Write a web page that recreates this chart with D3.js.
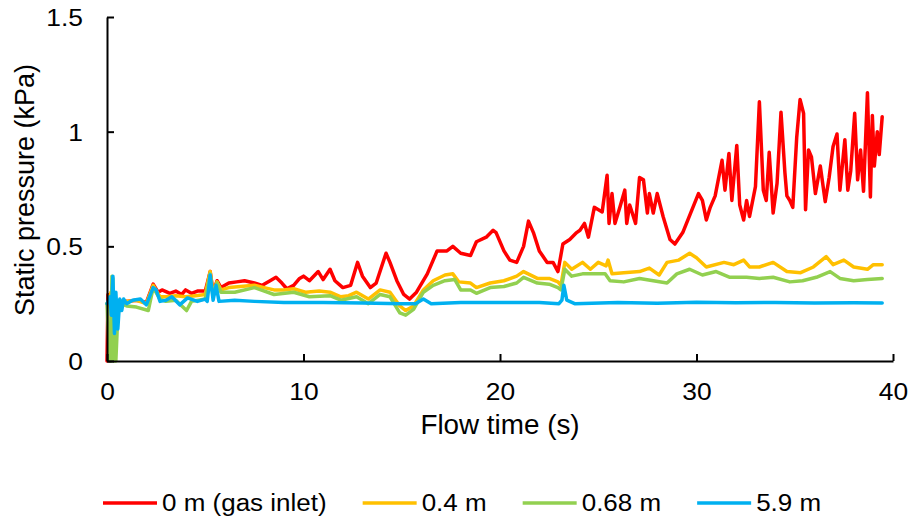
<!DOCTYPE html>
<html>
<head>
<meta charset="utf-8">
<script src="https://cdn.jsdelivr.net/npm/d3@7"></script>
<style>
  html, body { margin: 0; padding: 0; background: #fff; }
  svg { display: block; }
  text { font-family: "Liberation Sans", Arial, sans-serif; fill: #000; }
</style>
</head>
<body>
<svg id="chart" width="911" height="523"></svg>
<script>
// ---------- DATA ----------
const seriesNames = ["0 m (gas inlet)", "0.4 m", "0.68 m", "5.9 m"];
const seriesColors = ["#FF0000", "#FFC000", "#92D050", "#00B0F0"];

const xTicks = [0, 10, 20, 30, 40];
const yTicks = [0, 0.5, 1, 1.5];
const yTickLabels = ["0", "0.5", "1", "1.5"];

const tRed = [0,0.05,0.3,0.6,1.0,1.5,2.0,2.35,2.6,2.8,3.2,3.5,3.8,4.0,4.3,4.6,5.0,5.25,5.4,5.6,5.8,6.2,6.6,7.0,7.5,7.9,8.3,8.6,8.9,9.15,9.5,9.8,10.0,10.3,10.75,11.0,11.35,11.6,12.0,12.4,12.75,13.0,13.4,13.7,14.2,14.4,14.75,15.1,15.4,15.75,16.3,16.8,17.3,17.6,18.0,18.5,18.8,19.3,19.65,19.8,20.2,20.5,20.85,21.2,21.45,21.7,22.0,22.4,22.7,22.95,23.2,23.55,23.9,24.07,24.3,24.5,24.8,25.2,25.45,25.55,25.7,25.85,26.1,26.35,26.45,26.6,26.9,27.1,27.3,27.5,27.6,27.8,28.0,28.3,28.65,28.9,29.3,29.7,30.1,30.3,30.5,30.7,30.95,31.3,31.45,31.65,31.8,32.05,32.2,32.4,32.55,32.7,33.0,33.2,33.4,33.55,33.7,33.9,34.1,34.3,34.5,34.6,34.75,34.9,35.1,35.27,35.45,35.55,35.7,35.85,36.05,36.3,36.55,36.75,36.95,37.15,37.3,37.55,37.7,37.85,38.05,38.2,38.35,38.5,38.7,38.85,38.95,39.05,39.2,39.3,39.45];
const pRed = [0,0.29,0.27,0.26,0.26,0.265,0.255,0.335,0.30,0.31,0.295,0.305,0.29,0.31,0.295,0.305,0.305,0.39,0.30,0.35,0.32,0.34,0.345,0.35,0.34,0.33,0.35,0.365,0.34,0.315,0.33,0.36,0.37,0.35,0.39,0.355,0.40,0.35,0.32,0.33,0.43,0.37,0.32,0.34,0.47,0.43,0.35,0.29,0.27,0.30,0.38,0.48,0.48,0.50,0.47,0.46,0.52,0.54,0.57,0.56,0.48,0.44,0.43,0.50,0.61,0.56,0.48,0.43,0.43,0.39,0.51,0.53,0.56,0.57,0.60,0.54,0.67,0.65,0.81,0.60,0.73,0.60,0.67,0.745,0.60,0.68,0.60,0.80,0.79,0.645,0.73,0.645,0.73,0.63,0.53,0.51,0.56,0.645,0.73,0.70,0.615,0.67,0.72,0.875,0.745,0.905,0.70,0.94,0.68,0.615,0.70,0.63,0.76,1.13,0.745,0.70,0.91,0.645,0.775,1.085,0.82,0.72,0.70,0.67,0.975,1.14,1.08,0.66,0.92,0.89,0.73,0.85,0.695,0.80,0.935,0.99,0.745,0.965,0.745,0.83,1.08,0.79,0.92,0.74,1.17,0.715,1.07,0.85,1.0,0.90,1.065];

const tYellow = [0,0.1,0.2,0.35,0.6,1.0,1.5,2.0,2.35,2.7,3.0,3.5,4.0,4.5,5.0,5.25,5.4,5.6,5.8,6.2,6.8,7.5,8.0,8.5,9.0,9.5,10.1,10.8,11.35,11.9,12.3,12.7,13.3,13.9,14.4,14.9,15.2,15.6,16.1,16.6,17.2,17.6,17.9,18.5,18.8,19.5,20.2,20.85,21.2,21.9,22.5,22.95,23.1,23.3,23.65,24.2,24.6,25.0,25.4,25.5,25.7,26.3,27.1,27.6,28.1,28.5,29.1,29.65,30.0,30.5,31.4,31.9,32.4,32.7,33.2,33.9,34.6,35.3,35.95,36.6,36.95,37.5,38.0,38.7,39.0,39.45];
const pYellow = [0.25,0.26,0.30,0.27,0.26,0.26,0.265,0.25,0.33,0.28,0.28,0.285,0.28,0.285,0.29,0.39,0.29,0.345,0.31,0.32,0.325,0.33,0.32,0.31,0.31,0.315,0.30,0.305,0.30,0.28,0.285,0.30,0.27,0.31,0.30,0.24,0.22,0.24,0.31,0.35,0.375,0.38,0.345,0.34,0.32,0.34,0.35,0.37,0.39,0.36,0.36,0.345,0.33,0.43,0.40,0.43,0.40,0.43,0.415,0.44,0.38,0.385,0.39,0.405,0.375,0.43,0.44,0.47,0.45,0.41,0.43,0.42,0.44,0.41,0.41,0.43,0.39,0.385,0.41,0.455,0.42,0.44,0.41,0.40,0.42,0.42];

const tGreen = [0,0.08,0.12,0.2,0.25,0.3,0.35,0.45,0.55,0.7,1.0,1.5,2.1,2.35,2.7,3.0,3.5,4.05,4.3,5.0,5.25,5.4,5.6,5.8,6.5,7.5,8.5,9.5,10.3,11.35,11.9,12.7,13.3,13.9,14.4,14.9,15.2,15.6,16.1,16.6,17.2,17.7,18.0,18.5,18.8,19.5,20.2,20.85,21.2,21.9,22.5,22.95,23.1,23.3,23.65,24.2,24.7,25.35,25.6,26.3,27.1,27.8,28.5,29.0,29.65,30.3,31.0,31.7,32.55,33.2,33.9,34.75,35.4,36.1,36.8,37.3,38.0,38.7,39.45];
const pGreen = [0.25,0.10,0.0,0.0,0.37,0.36,0.0,0.0,0.20,0.25,0.24,0.235,0.22,0.32,0.27,0.26,0.265,0.22,0.26,0.27,0.38,0.28,0.34,0.30,0.30,0.32,0.29,0.30,0.28,0.285,0.265,0.28,0.25,0.29,0.28,0.21,0.20,0.225,0.30,0.33,0.35,0.355,0.31,0.31,0.295,0.32,0.325,0.34,0.365,0.34,0.335,0.32,0.31,0.40,0.37,0.38,0.38,0.38,0.35,0.345,0.36,0.35,0.34,0.38,0.40,0.375,0.39,0.365,0.365,0.36,0.365,0.345,0.35,0.365,0.39,0.36,0.35,0.355,0.36];

const tBlue = [0,0.15,0.22,0.3,0.38,0.45,0.55,0.65,0.75,0.85,1.0,1.3,1.7,2.0,2.35,2.5,2.7,3.0,3.3,3.7,4.1,4.6,5.0,5.1,5.25,5.4,5.55,5.7,6.5,7.5,9.0,11.0,13.0,15.0,15.7,16.1,16.5,18.0,20.0,22.0,23.0,23.15,23.25,23.4,23.8,26.0,28.0,30.0,32.0,34.0,36.0,38.0,39.45];
const pBlue = [0.25,0.28,0.20,0.37,0.12,0.30,0.14,0.27,0.22,0.27,0.25,0.265,0.27,0.245,0.32,0.31,0.26,0.265,0.28,0.245,0.275,0.26,0.27,0.26,0.375,0.265,0.33,0.26,0.265,0.26,0.255,0.255,0.253,0.25,0.25,0.27,0.25,0.255,0.255,0.255,0.25,0.265,0.33,0.265,0.25,0.255,0.252,0.256,0.254,0.255,0.253,0.254,0.253];

const seriesTimes = [tRed, tYellow, tGreen, tBlue];
const seriesValues = [pRed, pYellow, pGreen, pBlue];

const xTitle = "Flow time (s)";
const yTitle = "Static pressure (kPa)";

// ---------- LAYOUT ----------
const svg = d3.select("#chart");
const x = d3.scaleLinear().domain([0, 40]).range([107, 893]);
const y = d3.scaleLinear().domain([0, 1.5]).range([361, 17]);

function stretch(sel, k) {
  sel.each(function () {
    const w = this.getComputedTextLength();
    d3.select(this).attr("textLength", w * k).attr("lengthAdjust", "spacingAndGlyphs");
  });
}

// ---------- LINES ----------
const line = d3.line().x(d => x(d[0])).y(d => y(d[1]));
const plot = svg.append("g");
seriesNames.forEach((name, i) => {
  const pts = seriesTimes[i].map((t, j) => [t, seriesValues[i][j]]);
  plot.append("path")
    .datum(pts)
    .attr("fill", "none")
    .attr("stroke", seriesColors[i])
    .attr("stroke-width", 3.5)
    .attr("stroke-linejoin", "round")
    .attr("stroke-linecap", "round")
    .attr("d", line);
});

// ---------- AXES ----------
const xAxis = svg.append("g").attr("transform", `translate(0,${y(0)})`)
  .call(d3.axisBottom(x).tickValues(xTicks).tickSizeInner(-7).tickSizeOuter(0).tickPadding(22).tickFormat(d3.format("d")));
const yAxis = svg.append("g").attr("transform", `translate(${x(0)},0)`)
  .call(d3.axisLeft(y).tickValues(yTicks).tickSizeInner(-7).tickSizeOuter(0).tickPadding(24).tickFormat((d, i) => yTickLabels[i]));

[xAxis, yAxis].forEach(a => {
  a.select(".domain").attr("stroke", "#000").attr("stroke-width", 2);
  a.selectAll(".tick line").attr("stroke", "#000").attr("stroke-width", 2);
  a.selectAll(".tick text").attr("font-size", 24).attr("fill", "#000")
    .style("font-family", '"Liberation Sans", Arial, sans-serif');
});
xAxis.selectAll(".tick text").call(stretch, 1.1);
yAxis.selectAll(".tick text").attr("dy", "0.35em").call(stretch, 1.1);

// ---------- TITLES ----------
svg.append("text")
  .attr("x", 500).attr("y", 434)
  .attr("text-anchor", "middle")
  .attr("font-size", 27)
  .text(xTitle).call(stretch, 1.03);

svg.append("text")
  .attr("transform", `translate(34,${190}) rotate(-90)`)
  .attr("text-anchor", "middle")
  .attr("font-size", 27)
  .text(yTitle).call(stretch, 1.0);

// ---------- LEGEND ----------
const legend = svg.append("g").attr("transform", "translate(103,503)");
let cx = 0;
seriesNames.forEach((name, i) => {
  const g = legend.append("g").attr("transform", `translate(${cx},0)`);
  g.append("line").attr("x1", 0).attr("x2", 54).attr("y1", 0).attr("y2", 0)
    .attr("stroke", seriesColors[i]).attr("stroke-width", 3.5);
  const t = g.append("text").attr("x", 59).attr("y", 0).attr("dy", "0.35em")
    .attr("font-size", 23).text(name);
  const w0 = t.node().getComputedTextLength();
  t.attr("textLength", w0 * 1.13).attr("lengthAdjust", "spacingAndGlyphs");
  cx += 59 + w0 * 1.13 + 36;
});
</script>
</body>
</html>
